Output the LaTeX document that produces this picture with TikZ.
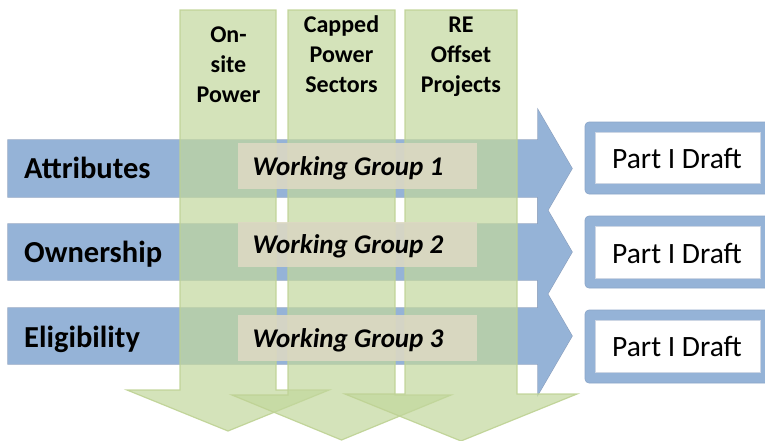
\documentclass[tikz,border=0pt]{standalone}
\usepackage{fontspec}
\setmainfont{Carlito}
\begin{document}
\begin{tikzpicture}[x=1pt,y=-1pt,
  blueline/.style={draw={rgb,255:red,140;green,160;blue,190}, line width=1.2pt},
  bluefill/.style={fill={rgb,255:red,149;green,179;blue,215}},
  greenfill/.style={fill={rgb,255:red,194;green,215;blue,156}, fill opacity=0.7,
    draw={rgb,255:red,190;green,210;blue,148}, draw opacity=0.9, line width=1.2pt},
  wgbox/.style={fill={rgb,255:red,221;green,217;blue,195}, fill opacity=0.88},
  rowlabel/.style={anchor=base west, inner sep=0pt, font=\fontsize{30.5}{36}\selectfont\bfseries},
  collabel/.style={anchor=base, inner sep=0pt, font=\fontsize{24}{30}\selectfont\bfseries},
  wglabel/.style={anchor=base, inner sep=0pt, font=\fontsize{27}{32}\selectfont\bfseries\itshape},
  outbox/.style={fill={rgb,255:red,149;green,179;blue,215}, draw={rgb,255:red,138;green,165;blue,200}, line width=0.6pt, rounded corners=4pt},
  inbox/.style={fill=white, draw={rgb,255:red,205;green,214;blue,228}, line width=0.6pt},
  draftlabel/.style={anchor=base west, inner sep=0pt, font=\fontsize{29.5}{35}\selectfont}]

\useasboundingbox (0,0) rectangle (765,440);

% topic arrows pointing right: outlines first, then fills so the overlaps stay clean
\def\arrowA{(8,140) -- (538,140) -- (538,110) -- (572,168.5) -- (538,227) -- (538,197) -- (8,197) -- cycle}
\def\arrowB{(8,224) -- (538,224) -- (538,193.5) -- (572,252) -- (538,310.5) -- (538,280) -- (8,280) -- cycle}
\def\arrowC{(8,308) -- (538,308) -- (538,277.5) -- (572,336) -- (538,394.5) -- (538,364) -- (8,364) -- cycle}
\draw[blueline] \arrowA;
\draw[blueline] \arrowB;
\draw[blueline] \arrowC;
\fill[bluefill] \arrowA;
\fill[bluefill] \arrowB;
\fill[bluefill] \arrowC;

% sector arrows pointing down
\draw[greenfill] (180,10) -- (276,10) -- (276,390) -- (329,390) -- (228,431) -- (127,390) -- (180,390) -- cycle;
\draw[greenfill] (288,10) -- (395,10) -- (395,395) -- (451,395) -- (341.5,440) -- (232,395) -- (288,395) -- cycle;
\draw[greenfill] (405,10) -- (517,10) -- (517,394) -- (577,394) -- (461,441) -- (345,394) -- (405,394) -- cycle;

% working group panels
\fill[wgbox] (238,143) rectangle (477,189);
\fill[wgbox] (238,222) rectangle (477,267);
\fill[wgbox] (238,315) rectangle (477,361);

% row labels
\node[rowlabel] (attr) at (24,178) {Attributes};
\node[rowlabel] (own) at (24,262) {Ownership};
\node[rowlabel] (elig) at (24,347) {Eligibility};

% column labels
\node[collabel] (onA) at (228.5,42) {On-};
\node[collabel] (onB) at (228.5,72) {site};
\node[collabel] (onC) at (228.5,102) {Power};
\node[collabel] (capA) at (341.5,32) {Capped};
\node[collabel] (capB) at (341.5,62) {Power};
\node[collabel] (capC) at (341.5,92) {Sectors};
\node[collabel] (reA) at (461,32) {RE};
\node[collabel] (reB) at (461,62) {Offset};
\node[collabel] (reC) at (461,92) {Projects};

% working group labels
\node[wglabel] (wg1) at (348,175) {Working Group 1};
\node[wglabel] (wg2) at (348,253) {Working Group 2};
\node[wglabel] (wg3) at (348,347) {Working Group 3};

% draft outputs
\draw[outbox] (585,122) rectangle (775,194);
\draw[inbox] (595,132) rectangle (760,183);
\node[draftlabel] (d1) at (612,168) {Part I Draft};
\draw[outbox] (585,216) rectangle (775,288);
\draw[inbox] (595,226) rectangle (760,278);
\node[draftlabel] (d2) at (612,263) {Part I Draft};
\draw[outbox] (585,310) rectangle (775,383);
\draw[inbox] (595,320) rectangle (760,372);
\node[draftlabel] (d3) at (612,356) {Part I Draft};
\end{tikzpicture}
\end{document}
